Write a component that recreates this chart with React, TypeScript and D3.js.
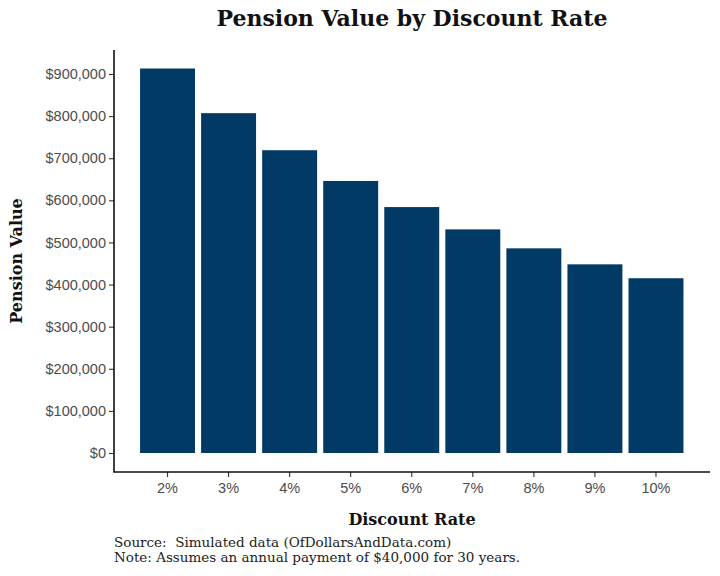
import React, { useEffect, useRef } from 'react';
import * as d3 from 'd3';

const width = 720;
const height = 576;
const panel = { left: 114, right: 710, top: 50, bottom: 472 };

const rates = ['2%', '3%', '4%', '5%', '6%', '7%', '8%', '9%', '10%'];
const pensionValues = [913000, 807000, 719000, 646000, 584000, 531000, 486000, 448000, 415000];
const yTicks = [0, 100000, 200000, 300000, 400000, 500000, 600000, 700000, 800000, 900000];

const barColor = '#023a66';
const serif = '"DejaVu Serif", "Liberation Serif", serif';
const sans = '"Liberation Sans", Arial, sans-serif';

export default function App() {
  const ref = useRef<SVGSVGElement>(null);

  useEffect(() => {
    if (!ref.current) return;
    const svg = d3.select(ref.current);
    svg.selectAll('*').remove();

    svg.append('rect').attr('width', width).attr('height', height).attr('fill', '#fff');

    const x = d3
      .scaleBand<string>()
      .domain(rates)
      .range([137, 686.5])
      .paddingInner(0.1)
      .paddingOuter(0.05);

    const y = d3.scaleLinear().domain([0, 900000]).range([453, 74]);

    // bars
    svg
      .append('g')
      .selectAll('rect')
      .data(rates)
      .enter()
      .append('rect')
      .attr('x', (d) => x(d) ?? 0)
      .attr('width', x.bandwidth())
      .attr('y', (d, i) => y(pensionValues[i]))
      .attr('height', (d, i) => y(0) - y(pensionValues[i]))
      .attr('fill', barColor);

    // y axis
    const yAxis = svg
      .append('g')
      .attr('transform', `translate(${panel.left}, 0)`)
      .call(
        d3
          .axisLeft(y)
          .tickValues(yTicks)
          .tickSize(5)
          .tickPadding(3)
          .tickFormat((d) => d3.format('$,')(d as number))
      );
    yAxis.select('.domain').remove();
    yAxis.selectAll('.tick line').attr('stroke', '#333').attr('stroke-width', 1.1);
    yAxis
      .selectAll('.tick text')
      .attr('fill', '#4d4d4d')
      .style('font-family', sans)
      .style('font-size', '14.5px');

    // x axis
    const xAxis = svg
      .append('g')
      .attr('transform', `translate(0, ${panel.bottom})`)
      .call(d3.axisBottom(x).tickSize(5).tickPadding(6));
    xAxis.select('.domain').remove();
    xAxis.selectAll('.tick line').attr('stroke', '#333').attr('stroke-width', 1.1);
    xAxis
      .selectAll('.tick text')
      .attr('fill', '#4d4d4d')
      .style('font-family', sans)
      .style('font-size', '14.5px');

    // axis lines
    svg
      .append('path')
      .attr('d', `M${panel.left},${panel.top}V${panel.bottom}H${panel.right}`)
      .attr('fill', 'none')
      .attr('stroke', '#111')
      .attr('stroke-width', 1.6);

    // title
    svg
      .append('text')
      .attr('x', (panel.left + panel.right) / 2)
      .attr('y', 26)
      .attr('text-anchor', 'middle')
      .style('font-family', serif)
      .style('font-weight', 'bold')
      .style('font-size', '22px')
      .attr('fill', '#111')
      .text('Pension Value by Discount Rate');

    // axis titles
    svg
      .append('text')
      .attr('x', (panel.left + panel.right) / 2)
      .attr('y', 525)
      .attr('text-anchor', 'middle')
      .style('font-family', serif)
      .style('font-weight', 'bold')
      .style('font-size', '16px')
      .attr('fill', '#111')
      .text('Discount Rate');

    svg
      .append('text')
      .attr('transform', `translate(22, ${(panel.top + panel.bottom) / 2}) rotate(-90)`)
      .attr('text-anchor', 'middle')
      .style('font-family', serif)
      .style('font-weight', 'bold')
      .style('font-size', '16px')
      .attr('fill', '#111')
      .text('Pension Value');

    // footnote
    const notes = [
      'Source:  Simulated data (OfDollarsAndData.com)',
      'Note: Assumes an annual payment of $40,000 for 30 years.',
    ];
    svg
      .append('g')
      .selectAll('text')
      .data(notes)
      .enter()
      .append('text')
      .attr('x', panel.left)
      .attr('y', (d, i) => 547 + i * 15)
      .style('font-family', serif)
      .style('font-size', '13.5px')
      .style('white-space', 'pre')
      .attr('fill', '#222')
      .text((d) => d);
  }, []);

  return (
    <div style={{ position: 'fixed', left: 0, top: 0 }}>
      <svg width={width} height={height} ref={ref} style={{ display: 'block' }} />
    </div>
  );
}
